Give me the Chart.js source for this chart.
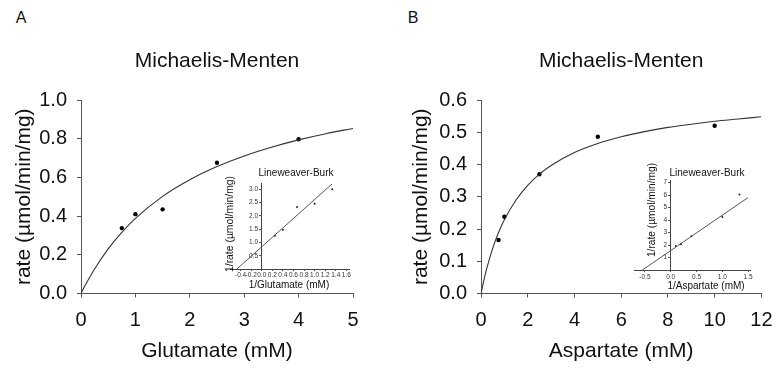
<!DOCTYPE html>
<html>
<head>
<meta charset="utf-8">
<script src="https://cdn.jsdelivr.net/npm/chart.js@4.4.0/dist/chart.umd.min.js"></script>
<style>
body { margin: 0; background: #fff; width: 783px; height: 368px; overflow: hidden; position: relative;
       font-family: "Liberation Sans", Arial, sans-serif; color: #111; }
canvas { position: absolute; }
.lbl { position: absolute; white-space: nowrap; line-height: 1; transform: translate(-50%, -50%); }
.rot { transform: translate(-50%, -50%) rotate(-90deg); }
</style>
</head>
<body>
<div class="lbl" style="left:21px;top:18px;font-size:16px">A</div>
<div class="lbl" style="left:413px;top:18px;font-size:16px">B</div>

<canvas id="mainA" width="390" height="368" style="left:0;top:0"></canvas>
<canvas id="mainB" width="393" height="368" style="left:390px;top:0"></canvas>
<canvas id="insetA" width="140" height="135" style="left:218px;top:160px"></canvas>
<canvas id="insetB" width="135" height="135" style="left:626px;top:160px"></canvas>

<div class="lbl" style="left:296px;top:173px;font-size:10px">Lineweaver-Burk</div>
<div class="lbl" style="left:289px;top:285px;font-size:10px">1/Glutamate (mM)</div>
<div class="lbl rot" style="left:230px;top:224px;font-size:10.4px">1/rate (µmol/min/mg)</div>

<div class="lbl" style="left:707px;top:173px;font-size:10px">Lineweaver-Burk</div>
<div class="lbl" style="left:706px;top:286px;font-size:10px">1/Aspartate (mM)</div>
<div class="lbl rot" style="left:652px;top:210px;font-size:10.2px">1/rate (µmol/min/mg)</div>

<script>
FONT = '"Liberation Sans", Arial, sans-serif';

// Panel A - glutamate
glutamateConc = [0.75, 1, 1.5, 2.5, 4];
glutamateRate = [0.338, 0.41, 0.435, 0.676, 0.797];
glutamateFitConc = [0, 0.05, 0.1, 0.25, 0.5, 0.75, 1, 1.5, 2, 2.5, 3, 3.5, 4, 4.5, 5];
glutamateFitRate = [0, 0.028, 0.054, 0.127, 0.231, 0.316, 0.388, 0.502, 0.588, 0.656, 0.711, 0.756, 0.794, 0.826, 0.853];
glutamateInvConc = [0.25, 0.4, 0.667, 1.0, 1.333];
glutamateInvRate = [1.25, 1.48, 2.33, 2.45, 3.0];
glutamateLineX = [-0.47, 1.33];
glutamateLineY = [0, 3.2];

// Panel B - aspartate
aspartateConc = [0.75, 1, 2.5, 5, 10];
aspartateRate = [0.166, 0.238, 0.37, 0.486, 0.52];
aspartateFitConc = [0, 0.1, 0.25, 0.5, 0.75, 1, 1.5, 2, 2.5, 3, 4, 5, 6, 7, 8, 9, 10, 11, 12];
aspartateFitRate = [0, 0.034, 0.079, 0.14, 0.189, 0.229, 0.29, 0.335, 0.37, 0.397, 0.437, 0.465, 0.486, 0.502, 0.515, 0.525, 0.534, 0.541, 0.548];
aspartateInvConc = [0.1, 0.2, 0.4, 1.0, 1.333];
aspartateInvRate = [1.92, 2.06, 2.7, 4.25, 6.05];
aspartateLineX = [-0.55, 1.5];
aspartateLineY = [0, 5.8];

// tick labels
mainAxTicks = [0, 1, 2, 3, 4, 5];
mainAyTicks = [0, 0.2, 0.4, 0.6, 0.8, 1.0];
mainBxTicks = [0, 2, 4, 6, 8, 10, 12];
mainByTicks = [0, 0.1, 0.2, 0.3, 0.4, 0.5, 0.6];
insetAxTicks = [-0.4, -0.2, 0, 0.2, 0.4, 0.6, 0.8, 1.0, 1.2, 1.4, 1.6];
insetAyTicks = [0.5, 1.0, 1.5, 2.0, 2.5, 3.0];
insetBxTicks = [-0.5, 0, 0.5, 1.0, 1.5];
insetByTicks = [1, 2, 3, 4, 5, 6, 7];

pts = (xs, ys) => xs.map((x, i) => ({x: x, y: ys[i]}));
fixTicks = (values) => (scale) => { scale.ticks = values.map(v => ({value: v})); };
fixWidth = (w) => (scale) => { scale.width = w; };
fixHeight = (h) => (scale) => { scale.height = h; };

function makeMain(id, cfg) {
    new Chart(document.getElementById(id), {
        type: 'scatter',
        data: {
            datasets: [
                { data: pts(cfg.fitX, cfg.fitY), showLine: true, pointRadius: 0, borderColor: '#333',
                  borderWidth: 1.1, cubicInterpolationMode: 'monotone' },
                { data: pts(cfg.x, cfg.y), pointRadius: 2.2, backgroundColor: '#000', borderWidth: 0 }
            ]
        },
        options: {
            responsive: false, animation: false, devicePixelRatio: 1,
            layout: { padding: { left: 0, top: 0, right: cfg.padRight, bottom: 0 } },
            plugins: {
                legend: { display: false }, tooltip: { enabled: false },
                title: { display: true, text: 'Michaelis-Menten', fullSize: false, color: '#111',
                         font: { size: 21, family: FONT, weight: 'normal' }, padding: { top: 48.2, bottom: 26.6 } }
            },
            scales: {
                x: {
                    type: 'linear', min: 0, max: cfg.xMax,
                    afterBuildTicks: fixTicks(cfg.xTicks), afterFit: fixHeight(74.5),
                    grid: { drawOnChartArea: false, tickLength: 4, color: '#555' },
                    border: { color: '#555' },
                    ticks: { padding: 10.5, color: '#111', font: { size: 20, family: FONT }, autoSkip: false, maxRotation: 0 },
                    title: { display: true, text: cfg.xTitle, color: '#111', font: { size: 21, family: FONT },
                             padding: { top: 0, bottom: 3.9 } }
                },
                y: {
                    type: 'linear', min: 0, max: cfg.yMax,
                    afterBuildTicks: fixTicks(cfg.yTicks), afterFit: fixWidth(cfg.yWidth),
                    grid: { drawOnChartArea: false, tickLength: 4, color: '#555' },
                    border: { color: '#555' },
                    ticks: { padding: 10, color: '#111', font: { size: 20, family: FONT },
                             callback: (v) => v.toFixed(1) },
                    title: { display: true, text: 'rate (µmol/min/mg)', color: '#111', font: { size: 21, family: FONT },
                             padding: { top: cfg.yTitlePad, bottom: 0 } }
                }
            }
        }
    });
}

function makeInset(id, cfg) {
    new Chart(document.getElementById(id), {
        type: 'scatter',
        data: {
            datasets: [
                { data: pts(cfg.lineX, cfg.lineY), showLine: true, pointRadius: 0, borderColor: '#444', borderWidth: 0.9 },
                { data: pts(cfg.x, cfg.y), pointRadius: 1, backgroundColor: '#222', borderWidth: 0 }
            ]
        },
        options: {
            responsive: false, animation: false, devicePixelRatio: 1,
            layout: { padding: { left: cfg.padLeft, top: cfg.padTop, right: cfg.padRight, bottom: 0 } },
            plugins: { legend: { display: false }, tooltip: { enabled: false } },
            scales: {
                x: {
                    type: 'linear', min: cfg.xMin, max: cfg.xMax,
                    afterBuildTicks: fixTicks(cfg.xTicks), afterFit: fixHeight(cfg.xHeight),
                    grid: { drawOnChartArea: false, tickLength: 2, color: '#555' },
                    border: { color: '#444' },
                    ticks: { padding: cfg.xPad, color: '#333', font: { size: 6.5, family: FONT },
                             autoSkip: false, maxRotation: 0, minRotation: 0, callback: cfg.xFmt }
                },
                y: {
                    type: 'linear', position: { x: 0 }, min: 0, max: cfg.yMax,
                    afterBuildTicks: fixTicks(cfg.yTicks),
                    grid: { drawOnChartArea: false, tickLength: 2, color: '#555' },
                    border: { color: '#444' },
                    ticks: { padding: 2, color: '#333', font: { size: 6.5, family: FONT }, callback: cfg.yFmt }
                }
            }
        }
    });
}

makeMain('mainA', {
    x: glutamateConc, y: glutamateRate, fitX: glutamateFitConc, fitY: glutamateFitRate,
    xMax: 5, yMax: 1.0, xTicks: mainAxTicks, yTicks: mainAyTicks,
    xTitle: 'Glutamate (mM)', padRight: 37, yWidth: 81, yTitlePad: 11.4
});
makeMain('mainB', {
    x: aspartateConc, y: aspartateRate, fitX: aspartateFitConc, fitY: aspartateFitRate,
    xMax: 12, yMax: 0.6, xTicks: mainBxTicks, yTicks: mainByTicks,
    xTitle: 'Aspartate (mM)', padRight: 18, yWidth: 91, yTitlePad: 19.1
});
makeInset('insetA', {
    x: glutamateInvConc, y: glutamateInvRate, lineX: glutamateLineX, lineY: glutamateLineY,
    xMin: -0.6, xMax: 1.65, yMax: 3.2, xTicks: insetAxTicks, yTicks: insetAyTicks,
    padLeft: 12, padTop: 23.9, padRight: 9, xHeight: 26, xPad: 0.5,
    xFmt: (v) => v.toFixed(1), yFmt: (v) => v.toFixed(1) + '  '
});
makeInset('insetB', {
    x: aspartateInvConc, y: aspartateInvRate, lineX: aspartateLineX, lineY: aspartateLineY,
    xMin: -0.7, xMax: 1.55, yMax: 7.2, xTicks: insetBxTicks, yTicks: insetByTicks,
    padLeft: 8.6, padTop: 20, padRight: 10.3, xHeight: 25, xPad: 1.6,
    xFmt: (v) => v.toFixed(1), yFmt: (v) => String(v) + '  '
});
</script>
</body>
</html>
